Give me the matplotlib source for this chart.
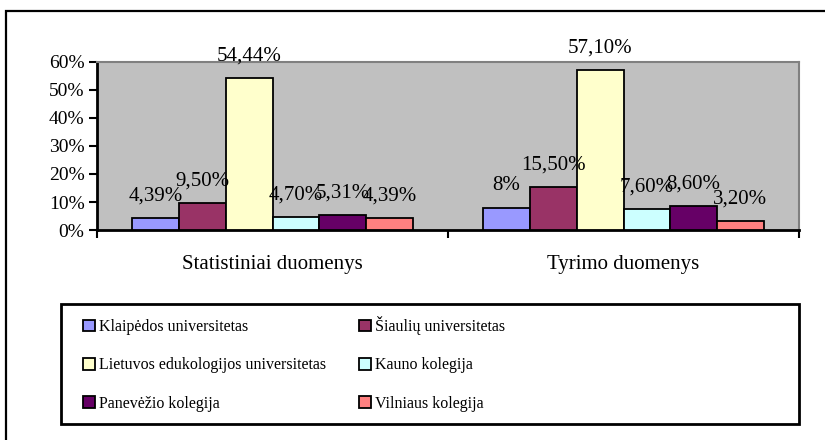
import matplotlib
matplotlib.use("Agg")
import matplotlib.pyplot as plt
from matplotlib.patches import Rectangle
from matplotlib.ticker import FuncFormatter

plt.rcParams['font.family'] = ['Liberation Serif', 'DejaVu Serif']

categories = ["Statistiniai duomenys", "Tyrimo duomenys"]
schools = ["Klaipėdos universitetas", "Šiaulių universitetas",
           "Lietuvos edukologijos universitetas", "Kauno kolegija",
           "Panevėžio kolegija", "Vilniaus kolegija"]
colors = ["#9999FF", "#993366", "#FFFFCC", "#CCFFFF", "#660066", "#FF8080"]

# percent values per school, one entry per category
klaipeda = [4.39, 8.0]
siauliai = [9.50, 15.50]
leu = [54.44, 57.10]
kaunas = [4.70, 7.60]
panevezys = [5.31, 8.60]
vilnius = [4.39, 3.20]
series = [klaipeda, siauliai, leu, kaunas, panevezys, vilnius]

# data labels as printed on the chart
labels_klaipeda = ["4,39%", "8%"]
labels_siauliai = ["9,50%", "15,50%"]
labels_leu = ["54,44%", "57,10%"]
labels_kaunas = ["4,70%", "7,60%"]
labels_panevezys = ["5,31%", "8,60%"]
labels_vilnius = ["4,39%", "3,20%"]
series_labels = [labels_klaipeda, labels_siauliai, labels_leu,
                 labels_kaunas, labels_panevezys, labels_vilnius]

W, H = 825, 440
fig = plt.figure(figsize=(W / 100, H / 100), dpi=100)

# outer frame (runs off the right and bottom edge)
fig.add_artist(Rectangle((6 / W, -0.2), 1.2, 1.2 - 11 / H,
                         transform=fig.transFigure, fill=False,
                         edgecolor="black", linewidth=1.6))

ax = fig.add_axes([97 / W, 1 - 230 / H, (799 - 97) / W, (230 - 62) / H])
ax.set_facecolor("#C0C0C0")

n = len(series)
bw = 0.8 / n
for i, (vals, labs) in enumerate(zip(series, series_labels)):
    xs = [c + 0.5 - 0.4 + bw * (i + 0.5) for c in range(len(categories))]
    ys = [v / 100 for v in vals]
    ax.bar(xs, ys, width=bw, color=colors[i], edgecolor="black",
           linewidth=1.3, label=schools[i], zorder=3)
    for x, y, t in zip(xs, ys, labs):
        ax.annotate(t, (x, y), xytext=(0, 9), textcoords="offset points",
                    ha="center", va="bottom", fontsize=15, zorder=4,
                    annotation_clip=False)

ax.set_xlim(0, 2)
ax.set_ylim(0, 0.6)
ax.set_yticks([0, 0.1, 0.2, 0.3, 0.4, 0.5, 0.6])
ax.yaxis.set_major_formatter(FuncFormatter(lambda v, p: f"{v * 100:.0f}%"))
ax.tick_params(axis="y", direction="out", length=6, width=1.5, pad=3,
               labelsize=14)
ax.set_xticks([0, 1, 2])
ax.set_xticklabels([])
ax.tick_params(axis="x", which="major", direction="out", length=6, width=1.5)
ax.set_xticks([0.5, 1.5], categories, minor=True)
ax.tick_params(axis="x", which="minor", length=0, pad=18, labelsize=15)

for s in ["left", "bottom"]:
    ax.spines[s].set_color("black")
    ax.spines[s].set_linewidth(2)
for s in ["top", "right"]:
    ax.spines[s].set_color("#808080")
    ax.spines[s].set_linewidth(1.5)

# legend box
fig.add_artist(Rectangle((61 / W, 1 - 424 / H), 738 / W, 120 / H,
                         transform=fig.transFigure, fill=False,
                         edgecolor="black", linewidth=2))

handles, names = ax.get_legend_handles_labels()
order = [0, 2, 4, 1, 3, 5]
fig.legend([handles[k] for k in order], [names[k] for k in order],
           loc="upper left", bbox_to_anchor=(83 / W, 1 - 316 / H),
           ncol=2, frameon=False, fontsize=11.5, borderpad=0,
           borderaxespad=0, handlelength=0.75, handleheight=0.75,
           handletextpad=0.25, columnspacing=2.05, labelspacing=1.4)

fig.savefig("out.png", dpi=100)
